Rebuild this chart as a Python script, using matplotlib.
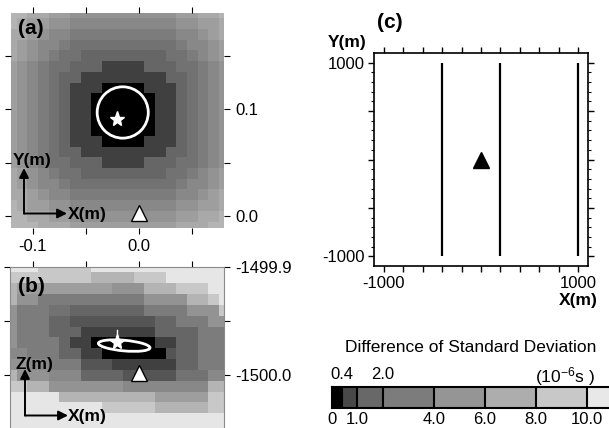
import numpy as np
import matplotlib
matplotlib.use('Agg')
import matplotlib.pyplot as plt
from matplotlib.colors import ListedColormap, BoundaryNorm
from matplotlib.patches import Circle, Ellipse

plt.rcParams['font.family'] = ['Liberation Sans', 'DejaVu Sans']
plt.rcParams['mathtext.fontset'] = 'custom'
plt.rcParams['mathtext.rm'] = 'Liberation Sans'
plt.rcParams['mathtext.it'] = 'Liberation Sans:italic'
plt.rcParams['mathtext.bf'] = 'Liberation Sans:bold'

# grey shade per level (0 = black ... 12 = lightest)
gray_levels = ['#000000', '#404040', '#555555', '#666666', '#727272', '#7c7c7c', '#888888',
               '#939393', '#9e9e9e', '#a9a9a9', '#b4b4b4', '#c8c8c8', '#e6e6e6']

# (a) horizontal slice, levels (hex digit per cell, top row first)
a_rows = [
    "aa9988" "7777777777" "8899a",
    "a98877" "6666666666" "77889",
    "998766" "5555555555" "66789",
    "987665" "4444444444" "56678",
    "9876544" "33333333" "445678",
    "8765443" "33" "1111" "33" "344567",
    "876543" "3" "11111111" "3" "34567",
    "87654311" "1" "0000" "1" "1134567",
    "87654311" "000000" "1134567",
    "87654311" "000000" "1134567",
    "87654311" "000000" "1134567",
    "87654311" "000000" "1134567",
    "87654311" "1" "0000" "1" "1134567",
    "876543" "3" "11111111" "3" "34567",
    "8765443" "33" "1111" "33" "344567",
    "9876544" "33333333" "445678",
    "987665" "4444444444" "56678",
    "998766" "5555555555" "66789",
    "a98877" "6666666666" "77889",
    "aa9988" "7777777777" "8899a",
    "aaa999" "8888888888" "999aa",
]
a_x = np.round(np.arange(-0.12, 0.0801, 0.01), 2)
a_y = np.round(np.arange(0.19, -0.0101, -0.01), 2)

# (b) vertical slice
b_rows = [
    "ccc" "bbbbb" "ccccccccccccc",
    "bbbbbbbb" "aaaa" "bbb" "cccccc",
    "a" "888888888" "777" "aaa" "bbb" "cc",
    "a" "77" "5555555555" "7777" "aa" "b" "c",
    "7" "555" "44" "3333333" "5555" "777" "b",
    "7" "555" "33" "22222222" "33" "555" "77",
    "7" "555" "333" "1111111" "3333" "555",
    "7" "5555" "3" "11" "000000" "11" "33" "555",
    "66" "555" "33" "11" "000000" "2" "33" "555",
    "77" "66" "555" "222" "111111" "33" "555",
    "a" "777" "666" "3333" "22222" "444" "66",
    "bb" "aa" "7777777" "66666666" "aa",
    "ccccc" "aaaaaaaaa" "88888" "bb",
    "ccccccccc" "bbbbb" "aaaaa" "bb",
    "ccccccccccccccccccccc",
    "ccccccccccccccccccccc",
]
b_x = a_x
b_z = np.round(np.arange(-1499.90, -1500.0501, -0.01), 2)

star_a = (-0.0206, 0.0907)
circle_a = (-0.0154, 0.097, 0.024)
station_a = (0.0, 0.003)
star_b = (-0.0206, -1499.969)
ellipse_b = (-0.014, -1499.9725, 0.0486, 0.0098, -5)
station_b = (0.0, -1499.998)

# (c) map view
line_x = [-400, 200, 1000]
line_y = (-1000, 1000)
station_c = (0, 0)

# colour scale
cb_bounds = [0, 0.4, 1.0, 2.0, 4.0, 6.0, 8.0, 10.0, 12.0]
cb_colors = ['#000000', '#484848', '#686868', '#7c7c7c', '#959595', '#adadad', '#c8c8c8', '#e8e8e8']
cb_top_labels = [0.4, 2.0]
cb_bottom_labels = [0, 1.0, 4.0, 6.0, 8.0, 10.0]

W, H = 609, 428
fig = plt.figure(figsize=(W / 100, H / 100), dpi=100)


def box(l, t, r, b):
    return [l / W, 1 - b / H, (r - l) / W, (b - t) / H]


def fp(x, y):
    return (x / W, 1 - y / H)


cmap = ListedColormap(gray_levels)
fs = 12


def grid(rows):
    return np.array([[int(ch, 16) for ch in r] for r in rows])


def arrow(x0, y0, x1, y1):
    fig.add_artist(plt.Annotation('', xy=fp(x1, y1), xytext=fp(x0, y0),
                                  xycoords='figure fraction', textcoords='figure fraction',
                                  arrowprops=dict(arrowstyle='-|>', color='k', lw=1.4,
                                                  mutation_scale=14, shrinkA=0, shrinkB=0)))


# ---- panel (a)
ax = fig.add_axes(box(11, 13, 224, 228))
ax.pcolormesh(a_x, a_y, grid(a_rows), shading='nearest', cmap=cmap, vmin=-0.5, vmax=12.5)
ax.set_xlim(-0.1203, 0.0797)
ax.set_ylim(-0.011, 0.19)
ax.add_patch(Circle(circle_a[:2], circle_a[2], fill=False, ec='white', lw=2))
ax.plot(*star_a, marker='*', color='white', ms=11, mec='white')
ax.plot(*station_a, marker='^', color='white', ms=12, mec='black', mew=1, clip_on=False)
ax.set_xticks([-0.1, -0.05, 0.0, 0.05])
ax.set_xticklabels(['-0.1', '', '0.0', ''])
ax.set_yticks([0.0, 0.05, 0.1, 0.15])
ax.set_yticklabels(['0.0', '', '0.1', ''])
ax.tick_params(direction='out', length=4, width=0.8, labelsize=fs, pad=4,
               top=True, right=True, labelleft=False, labelright=True)
for s in ax.spines.values():
    s.set_visible(False)
fig.text(*fp(18, 29), '(a)', fontsize=15, fontweight='bold', va='center')
fig.text(*fp(13, 161), 'Y(m)', fontsize=12.5, fontweight='bold', va='center')
fig.text(*fp(68, 215), 'X(m)', fontsize=12.5, fontweight='bold', va='center')
arrow(24, 213.5, 24, 168)
arrow(24, 213.5, 67, 213.5)

# ---- panel (b)
ax = fig.add_axes(box(10, 267, 224, 435))
ax.pcolormesh(b_x, b_z, grid(b_rows), shading='nearest', cmap=cmap, vmin=-0.5, vmax=12.5)
ax.set_xlim(-0.1212, 0.0797)
ax.set_ylim(-1500.055, -1499.90)
ax.add_patch(Ellipse(ellipse_b[:2], ellipse_b[2], ellipse_b[3], angle=ellipse_b[4],
                     fill=False, ec='white', lw=2))
ax.plot([star_b[0], star_b[0]], [star_b[1], star_b[1] + 0.011], color='white', lw=1)
ax.plot(*star_b, marker='*', color='white', ms=11, mec='white')
ax.plot(*station_b, marker='^', color='white', ms=12, mec='black', mew=1)
ax.set_xticks([-0.1, -0.05, 0.0, 0.05])
ax.set_yticks([-1500.0, -1499.95, -1499.9])
ax.set_yticklabels(['-1500.0', '', '-1499.9'])
ax.tick_params(direction='out', length=4, width=0.8, labelsize=fs, pad=4,
               top=True, right=True, labelleft=False, labelright=True, labelbottom=False)
for s in ax.spines.values():
    s.set_linewidth(0.8)
    s.set_color('#8a8a8a')
fig.text(*fp(18, 286), '(b)', fontsize=15, fontweight='bold', va='center')
fig.text(*fp(16, 364), 'Z(m)', fontsize=12.5, fontweight='bold', va='center')
fig.text(*fp(68, 416), 'X(m)', fontsize=12.5, fontweight='bold', va='center')
arrow(25, 415.5, 25, 369)
arrow(25, 415.5, 68, 415.5)

# ---- panel (c)
ax = fig.add_axes(box(374, 53, 588, 266))
ax.vlines(line_x, *line_y, color='black', lw=1.6)
ax.plot(*station_c, marker='^', color='black', ms=12)
ax.set_xlim(-1100, 1100)
ax.set_ylim(-1100, 1100)
ax.set_xticks([-1000, -800, -600, -400, -200, 0, 200, 400, 600, 800, 1000])
ax.set_xticklabels(['-1000'] + [''] * 9 + ['1000'])
ax.set_yticks([-1000, -500, 0, 500, 1000])
ax.set_yticklabels(['-1000', '', '', '', '1000'])
ax.set_yticks([-1000 + 100 * i for i in range(21)], minor=True)
ax.tick_params(which='major', direction='out', length=4, width=1, labelsize=fs, pad=3,
               top=True, right=True)
ax.tick_params(which='minor', direction='out', length=2, width=0.8, left=True, right=True)
for s in ax.spines.values():
    s.set_linewidth(1.2)
fig.text(*fp(377, 22), '(c)', fontsize=15, fontweight='bold', va='center')
fig.text(*fp(367, 43), 'Y(m)', fontsize=12.5, fontweight='bold', va='center', ha='right')
fig.text(*fp(598, 300), 'X(m)', fontsize=12.5, fontweight='bold', va='center', ha='right')

# ---- colour scale
ax = fig.add_axes(box(331.7, 386.7, 612, 408.3))
norm = BoundaryNorm(cb_bounds, len(cb_colors))
mids = [(a + b) / 2 for a, b in zip(cb_bounds[:-1], cb_bounds[1:])]
ax.pcolormesh(cb_bounds, [0, 1], [mids], cmap=ListedColormap(cb_colors), norm=norm)
ax.vlines(cb_bounds[1:-1], 0, 1, color='black', lw=1.5)
ax.set_xlim(0, 11)
ax.set_ylim(0, 1)
ax.set_xticks([])
ax.set_yticks([])
for s in ax.spines.values():
    s.set_linewidth(1.5)
for v in cb_top_labels:
    ax.text(v, 1.2, f'{v:.1f}', fontsize=fs, ha='center', va='bottom')
for v in cb_bottom_labels:
    ax.text(v, -0.15, '0' if v == 0 else f'{v:.1f}', fontsize=fs, ha='center', va='top')
fig.text(*fp(471, 348), 'Difference of Standard Deviation', fontsize=12.5, ha='center', va='center')
fig.text(*fp(595, 377), r'(10$^{-6}$s )', fontsize=12.5, ha='right', va='center')

fig.savefig('out.png', dpi=100)
